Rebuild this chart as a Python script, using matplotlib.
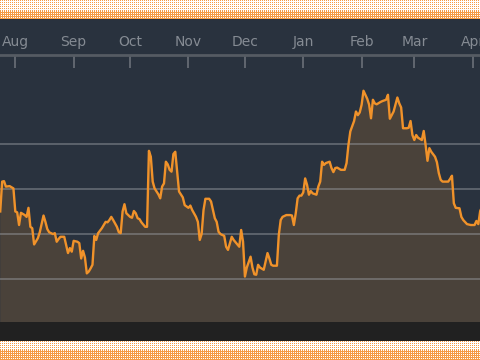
import numpy as np
import pandas as pd
import matplotlib
matplotlib.use('Agg')
from matplotlib import pyplot as plt
import matplotlib.dates as mdates

# day offsets from 1 Aug 2022 and the series value on that day
days = [-8, -7, -6, -5, -3, -1, 0, 1, 2, 3,
        5, 6, 7, 8, 9, 10, 12, 13, 15, 16,
        17, 18, 20, 21, 22, 23, 24, 25, 26, 27,
        28, 29, 30, 31, 33, 34, 35, 36, 37, 38,
        39, 40, 41, 42, 43, 44, 46, 48, 49, 50,
        51, 52, 54, 55, 56, 57, 58, 59, 61, 62,
        63, 64, 65, 66, 67, 69, 70, 71, 72, 73,
        74, 76, 77, 78, 79, 80, 81, 82, 83, 84,
        85, 86, 87, 89, 90, 92, 93, 94, 96, 97,
        98, 99, 100, 101, 103, 104, 106, 107, 108, 109,
        111, 112, 113, 115, 116, 118, 119, 120, 121, 122,
        123, 125, 126, 127, 128, 129, 130, 132, 134, 135,
        136, 137, 139, 140, 141, 142, 144, 146, 147, 148,
        149, 150, 151, 152, 153, 154, 155, 156, 157, 158,
        160, 161, 162, 163, 164, 165, 167, 168, 169, 170,
        171, 173, 175, 176, 177, 178, 180, 181, 182, 183,
        184, 185, 186, 187, 188, 189, 190, 191, 192, 194,
        195, 197, 198, 199, 201, 203, 204, 205, 206, 208,
        209, 210, 211, 212, 213, 214, 216, 217, 218, 219,
        220, 221, 223, 224, 225, 226, 227, 230, 231, 232,
        233, 234, 236, 237, 238, 240, 242, 244, 245, 246,
        247, 248]

values = [35.0, 41.6, 41.7, 40.5, 40.6, 40.1, 35.0, 34.8, 32.0, 34.7,
          34.2, 33.8, 35.8, 31.6, 31.3, 27.7, 29.1, 30.4, 34.1, 32.7,
          31.1, 30.4, 30.0, 30.2, 28.3, 28.9, 29.4, 29.4, 29.4, 27.6,
          25.8, 26.9, 26.1, 28.5, 28.3, 28.0, 24.6, 26.3, 24.8, 21.3,
          21.7, 22.4, 23.2, 29.6, 28.7, 30.2, 31.3, 32.7, 32.6, 33.1,
          33.8, 33.1, 31.6, 30.4, 30.2, 35.0, 36.6, 34.6, 33.8, 33.6,
          35.1, 34.6, 33.5, 33.3, 32.6, 31.6, 31.6, 48.4, 47.1, 41.6,
          40.1, 38.8, 37.9, 40.5, 41.2, 46.0, 45.4, 44.2, 43.8, 47.7,
          48.2, 43.8, 39.4, 38.1, 36.4, 35.8, 36.3, 35.3, 33.8, 32.7,
          28.7, 30.0, 35.3, 37.8, 37.8, 37.2, 33.5, 32.7, 30.5, 30.0,
          29.6, 27.2, 26.5, 29.4, 28.7, 27.7, 27.2, 30.9, 28.3, 20.6,
          22.6, 25.0, 22.6, 21.1, 21.0, 23.2, 22.6, 22.1, 25.8, 24.6,
          23.2, 23.0, 23.0, 29.8, 33.1, 33.8, 34.2, 34.2, 34.1, 32.0,
          34.6, 37.9, 38.5, 38.5, 39.2, 42.3, 40.9, 38.7, 39.5, 39.0,
          38.7, 40.5, 41.6, 46.0, 45.3, 45.7, 46.0, 44.6, 43.7, 44.6,
          44.7, 44.2, 44.2, 45.7, 49.7, 52.7, 55.0, 57.1, 56.3, 56.9,
          58.6, 61.7, 60.8, 59.9, 58.6, 55.6, 59.7, 58.9, 58.7, 59.2,
          59.4, 59.7, 60.8, 55.5, 57.1, 60.2, 58.9, 58.0, 53.4, 53.4,
          53.5, 55.0, 51.9, 50.8, 51.9, 51.3, 50.8, 52.8, 49.7, 46.2,
          49.0, 48.2, 47.1, 45.9, 43.5, 42.0, 41.6, 41.6, 42.2, 42.9,
          36.8, 35.8, 35.7, 33.8, 33.1, 32.2, 32.0, 32.0, 32.9, 32.2,
          35.1, 36.0]

grid_levels = [20, 30, 40, 50]

start = pd.Timestamp('2022-08-01')
dates = start + pd.to_timedelta(days, unit='D')

bg = '#29323e'
orange = '#f0922a'

fig = plt.figure(figsize=(4.8, 3.6), dpi=100, facecolor=bg)


def dotted_band(rows_dots, rows_lines, dots_first=True):
    # sparse orange dots on white, then denser orange stripes
    yy, xx = np.mgrid[0:rows_dots + rows_lines, 0:480]
    if dots_first:
        dense = yy >= rows_dots
    else:
        dense = yy < rows_lines
    sparse_mask = (xx % 2 == 0) & (yy % 2 == 0)
    dense_mask = (yy % 2 == 0) | (xx % 2 == 0)
    mask = np.where(dense, dense_mask, sparse_mask)
    return np.where(mask[..., None], np.array([245, 155, 70]) / 255,
                    np.array([1.0, 1.0, 1.0]))


fig.figimage(dotted_band(11, 8, True), xo=0, yo=341, zorder=5)
fig.figimage(dotted_band(9, 10, True), xo=0, yo=0, zorder=5)
fig.patches.append(plt.Rectangle((0, 19 / 360), 1, 19 / 360, transform=fig.transFigure,
                                 facecolor='#212121', edgecolor='none', zorder=1))

ax = fig.add_axes([0, 38 / 360, 1, 267 / 360])
ax.set_facecolor(bg)

ax.fill_between(dates, values, 0, color=orange, alpha=0.17, linewidth=0, zorder=1)
for g in grid_levels:
    ax.axhline(g, color='#9a9ea4', alpha=0.45, linewidth=1.4, zorder=2)
ax.plot(dates, values, color=orange, linewidth=1.7, zorder=3)

ax.set_xlim(start - pd.Timedelta(days=8.13), pd.Timestamp('2023-04-01') + pd.Timedelta(days=3.9))
ax.set_ylim(10.55, 69.6)

ax.xaxis.set_major_locator(mdates.MonthLocator())
ax.xaxis.set_major_formatter(mdates.DateFormatter('%b'))
ax.xaxis.tick_top()
ax.tick_params(axis='x', direction='in', length=9, width=1.2, color='#6a7078',
               labelcolor='#858b93', labelsize=10, pad=4)
ax.set_yticks([])

for side in ['left', 'right', 'bottom']:
    ax.spines[side].set_visible(False)
ax.spines['top'].set_color('#555b63')
ax.spines['top'].set_linewidth(2)

fig.savefig('out.png', dpi=100, facecolor=bg)
